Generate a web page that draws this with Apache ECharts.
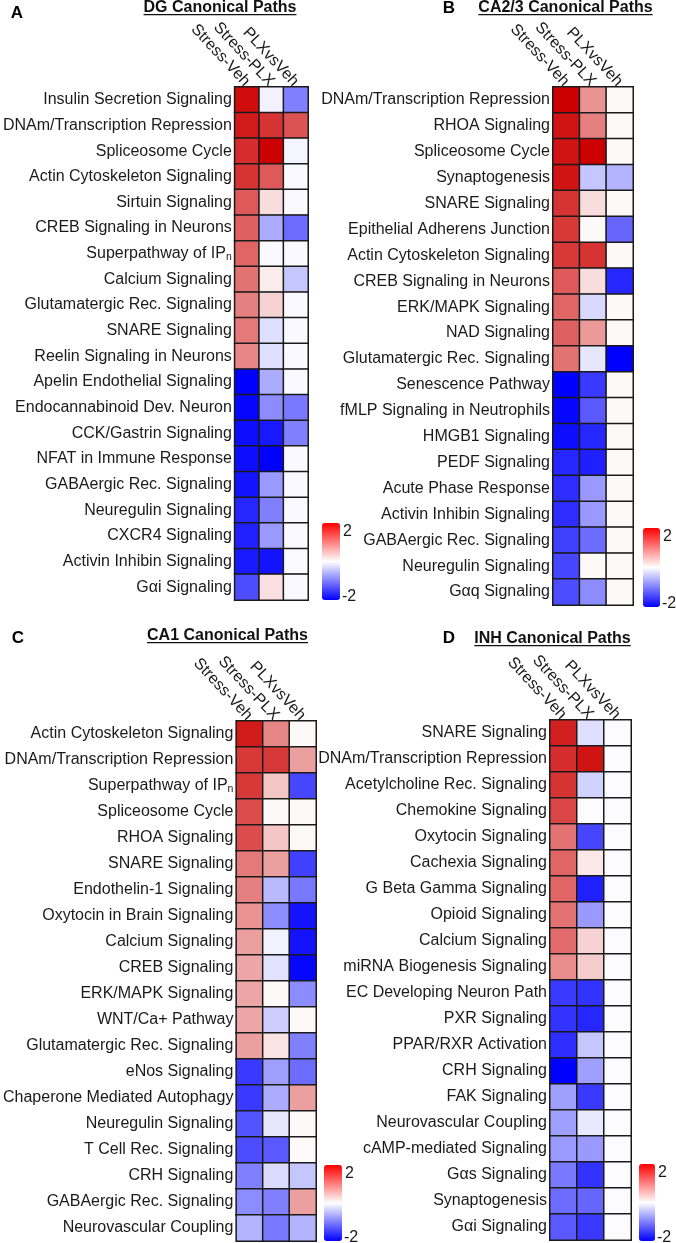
<!DOCTYPE html>
<html><head><meta charset="utf-8">
<script src="https://cdn.jsdelivr.net/npm/echarts@6/dist/echarts.min.js"></script>
<style>html,body{margin:0;padding:0;background:#fff}#c{width:676px;height:1243px}</style>
</head><body><div id="c"></div>
<script>
// ---------------- data ----------------
const comparisons = ['Stress-Veh', 'Stress-PLX', 'PLXvsVeh'];
const colorbarTicks = ['2', '-2'];
const scaleMin = -2, scaleMax = 2;

const dgPaths = ['Insulin Secretion Signaling','DNAm/Transcription Repression','Spliceosome Cycle','Actin Cytoskeleton Signaling','Sirtuin Signaling','CREB Signaling in Neurons','Superpathway of IPₙ','Calcium Signaling','Glutamatergic Rec. Signaling','SNARE Signaling','Reelin Signaling in Neurons','Apelin Endothelial Signaling','Endocannabinoid Dev. Neuron','CCK/Gastrin Signaling','NFAT in Immune Response','GABAergic Rec. Signaling','Neuregulin Signaling','CXCR4 Signaling','Activin Inhibin Signaling','Gαi Signaling'];
const dgStressVeh = [1.9,1.8,1.65,1.6,1.3,1.25,1.2,1.1,1.0,1.05,0.95,-2.0,-1.95,-1.9,-1.9,-1.85,-1.7,-1.75,-1.8,-1.4];
const dgStressPLX = [-0.1,1.6,2.0,1.3,0.27,-0.65,-0.05,0.15,0.35,-0.25,-0.25,-0.65,-0.9,-1.8,-2.0,-0.8,-1.0,-0.8,-1.85,0.25];
const dgPLXvsVeh = [-1.0,1.35,-0.08,-0.05,-0.05,-1.15,-0.05,-0.45,-0.05,-0.05,-0.05,-0.05,-1.05,-1.0,-0.05,-0.05,-0.05,-0.05,-0.03,-0.05];

const ca23Paths = ['DNAm/Transcription Repression','RHOA Signaling','Spliceosome Cycle','Synaptogenesis','SNARE Signaling','Epithelial Adherens Junction','Actin Cytoskeleton Signaling','CREB Signaling in Neurons','ERK/MAPK Signaling','NAD Signaling','Glutamatergic Rec. Signaling','Senescence Pathway','fMLP Signaling in Neutrophils','HMGB1 Signaling','PEDF Signaling','Acute Phase Response','Activin Inhibin Signaling','GABAergic Rec. Signaling','Neuregulin Signaling','Gαq Signaling'];
const ca23StressVeh = [2.0,1.85,1.85,1.85,1.6,1.55,1.55,1.3,1.2,1.25,1.1,-2.0,-1.95,-1.9,-1.7,-1.65,-1.65,-1.5,-1.45,-1.4];
const ca23StressPLX = [0.85,1.0,2.0,-0.45,0.27,0.05,1.6,0.27,-0.3,0.8,-0.2,-1.55,-1.3,-1.7,-1.75,-0.8,-0.8,-1.15,0.05,-0.9];
const ca23PLXvsVeh = [0.05,0.05,0.05,-0.6,0.05,-1.2,0.05,-1.7,0.05,0.05,-2.0,0.05,0.05,0.05,0.05,0.05,0.05,0.05,0.05,0.05];

const ca1Paths = ['Actin Cytoskeleton Signaling','DNAm/Transcription Repression','Superpathway of IPₙ','Spliceosome Cycle','RHOA Signaling','SNARE Signaling','Endothelin-1 Signaling','Oxytocin in Brain Signaling','Calcium Signaling','CREB Signaling','ERK/MAPK Signaling','WNT/Ca+ Pathway','Glutamatergic Rec. Signaling','eNos Signaling','Chaperone Mediated Autophagy','Neuregulin Signaling','T Cell Rec. Signaling','CRH Signaling','GABAergic Rec. Signaling','Neurovascular Coupling'];
const ca1StressVeh = [1.8,1.55,1.55,1.4,1.4,1.05,1.0,0.85,0.75,0.7,0.7,0.7,0.75,-1.55,-1.55,-1.35,-1.4,-1.0,-0.9,-0.6];
const ca1StressPLX = [0.95,1.55,0.45,0.05,0.45,0.75,-0.55,-0.9,-0.1,-0.22,0.05,-0.4,0.22,-0.75,-0.65,-0.2,-1.3,-0.28,-1.0,-1.05];
const ca1PLXvsVeh = [0.05,0.75,-1.45,0.05,0.05,-1.5,-1.05,-1.85,-1.85,-1.95,-0.9,0.05,-1.0,-1.15,0.75,0.05,0.04,-0.45,0.75,-0.6];

const inhPaths = ['SNARE Signaling','DNAm/Transcription Repression','Acetylcholine Rec. Signaling','Chemokine Signaling','Oxytocin Signaling','Cachexia Signaling','G Beta Gamma Signaling','Opioid Signaling','Calcium Signaling','miRNA Biogenesis Signaling','EC Developing Neuron Path','PXR Signaling','PPAR/RXR Activation','CRH Signaling','FAK Signaling','Neurovascular Coupling','cAMP-mediated Signaling','Gαs Signaling','Synaptogenesis','Gαi Signaling'];
const inhStressVeh = [1.75,1.65,1.6,1.45,1.1,1.2,1.2,1.1,1.15,0.9,-1.55,-1.6,-1.65,-2.0,-0.75,-0.75,-0.8,-1.05,-1.15,-1.3];
const inhStressPLX = [-0.25,1.85,-0.35,-0.02,-1.45,0.18,-1.75,-0.8,0.35,0.4,-1.6,-1.7,-0.45,-0.75,-1.55,-0.18,-0.8,-1.6,-1.2,-1.55];
const inhPLXvsVeh = [-0.02,-0.02,-0.02,-0.02,-0.02,-0.02,-0.02,-0.02,-0.02,-0.02,-0.02,-0.02,-0.02,-0.02,-0.02,-0.02,-0.02,-0.02,-0.02,-0.02];

// ---------------- layout ----------------
const FONT = '"Liberation Sans", Arial, sans-serif';
const panels = [
  {letter:'A', title:'DG Canonical Paths', paths:dgPaths, vals:[dgStressVeh,dgStressPLX,dgPLXvsVeh],
   grid:{left:229, top:87, width:79, height:513}, letterPos:[17,13], titlePos:[220,7], barPos:[322,523], barSize:[18,77]},
  {letter:'B', title:'CA2/3 Canonical Paths', paths:ca23Paths, vals:[ca23StressVeh,ca23StressPLX,ca23PLXvsVeh],
   grid:{left:553, top:87, width:80, height:518}, letterPos:[449,8], titlePos:[565.5,7], barPos:[643,528], barSize:[17,79]},
  {letter:'C', title:'CA1 Canonical Paths', paths:ca1Paths, vals:[ca1StressVeh,ca1StressPLX,ca1PLXvsVeh],
   grid:{left:234, top:721, width:82, height:520}, letterPos:[18,638], titlePos:[227.5,635], barPos:[324,1165], barSize:[18,76]},
  {letter:'D', title:'INH Canonical Paths', paths:inhPaths, vals:[inhStressVeh,inhStressPLX,inhPLXvsVeh],
   grid:{left:550, top:720, width:81, height:520}, letterPos:[449,638], titlePos:[552.5,638], barPos:[639,1164], barSize:[16,77]}
];

const ctx = document.createElement('canvas').getContext('2d');
function textW(font, t) { ctx.font = font; return ctx.measureText(t).width; }

const grids = [], xAxes = [], yAxes = [], series = [], graphics = [];
const visualMaps = [{
  type:'continuous', show:false, min:scaleMin, max:scaleMax, dimension:2,
  seriesIndex: panels.map((p, i) => i),
  inRange:{ color:['#0000ff', '#ffffff', '#cc0000'] }
}];

panels.forEach((p, i) => {
  grids.push(Object.assign({containLabel:false}, p.grid));
  xAxes.push({
    type:'category', gridIndex:i, data:comparisons, position:'top',
    axisLine:{show:false}, axisTick:{show:false}, splitLine:{show:false},
    axisLabel:{interval:0, rotate:47, margin:3, fontSize:16, color:'#1a1a1a', fontFamily:FONT}
  });
  yAxes.push({
    type:'category', gridIndex:i, data:p.paths, inverse:true,
    axisLine:{show:false}, axisTick:{show:false}, splitLine:{show:false},
    axisLabel:{
      interval:0, margin:3, fontSize:16, color:'#1a1a1a', fontFamily:FONT,
      formatter: v => v.indexOf('ₙ') >= 0 ? v.replace('ₙ', '{sub|n}') : v,
      rich:{ sub:{ fontSize:10.5, fontFamily:FONT, color:'#1a1a1a', verticalAlign:'bottom', padding:[7,0,0,0] } }
    }
  });
  const data = [];
  p.vals.forEach((col, ci) => col.forEach((v, ri) => data.push([ci, ri, v])));
  series.push({
    type:'heatmap', xAxisIndex:i, yAxisIndex:i, data:data,
    itemStyle:{ borderColor:'#1a1a1a', borderWidth:1.5 },
    emphasis:{ disabled:true }, progressive:0, animation:false
  });
  visualMaps.push({
    type:'continuous', show:true, min:scaleMin, max:scaleMax, seriesIndex:[],
    left:p.barPos[0], top:p.barPos[1], padding:0, itemWidth:p.barSize[0], itemHeight:p.barSize[1],
    calculable:false, hoverLink:false,
    inRange:{ color:['#0000ff', '#ffffff', '#ff0000'] }
  });
  // colorbar end labels
  const lx = p.barPos[0] + p.barSize[0] + 3;
  graphics.push({type:'text', x:lx, y:p.barPos[1] + 9,
    style:{text:colorbarTicks[0], font:'16px ' + FONT, fill:'#1a1a1a', align:'left', verticalAlign:'middle', textAlign:'left', textVerticalAlign:'middle'}});
  graphics.push({type:'text', x:lx - 1, y:p.barPos[1] + p.barSize[1] - 3,
    style:{text:colorbarTicks[1], font:'16px ' + FONT, fill:'#1a1a1a', align:'left', verticalAlign:'middle', textAlign:'left', textVerticalAlign:'middle'}});
  // panel letter
  graphics.push({type:'text', x:p.letterPos[0], y:p.letterPos[1],
    style:{text:p.letter, font:'bold 17px ' + FONT, fill:'#000', align:'center', verticalAlign:'middle', textAlign:'center', textVerticalAlign:'middle'}});
  // title + underline
  const tf = 'bold 16px ' + FONT;
  const tw = textW(tf, p.title);
  graphics.push({type:'text', x:p.titlePos[0], y:p.titlePos[1] + 1,
    style:{text:p.title, font:tf, fill:'#111', align:'center', verticalAlign:'middle', textAlign:'center', textVerticalAlign:'middle'}});
  graphics.push({type:'rect', shape:{x:p.titlePos[0] - tw / 2, y:p.titlePos[1] + 7, width:tw, height:1.3}, style:{fill:'#111'}});
});

const chart = echarts.init(document.getElementById('c'), null, {renderer:'canvas'});
chart.setOption({
  animation:false,
  backgroundColor:'#ffffff',
  grid:grids, xAxis:xAxes, yAxis:yAxes, series:series,
  visualMap:visualMaps,
  graphic:{elements:graphics}
});
</script></body></html>
